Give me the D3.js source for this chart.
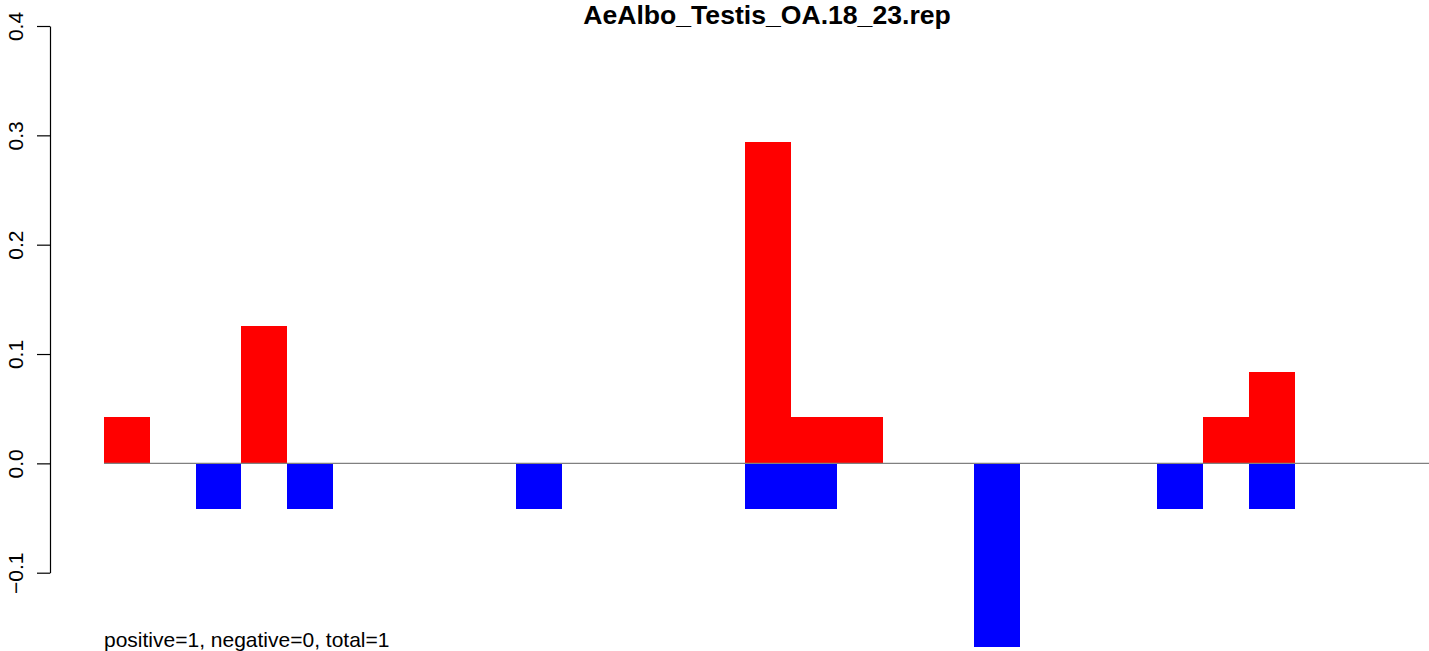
<!DOCTYPE html>
<html>
<head>
<meta charset="utf-8">
<script src="https://cdn.jsdelivr.net/npm/d3@7"></script>
<style>
  html, body { margin: 0; padding: 0; background: #fff; }
  svg { display: block; font-family: "Liberation Sans", Arial, Helvetica, sans-serif; }
</style>
</head>
<body>
<svg id="chart" width="1429" height="651"></svg>
<script>
// ---- data ----
const chartTitle = "AeAlbo_Testis_OA.18_23.rep";
const footnote = "positive=1, negative=0, total=1";
const slotCount = 29;
const redSlots  = [0, 3, 14, 15, 16, 24, 25];
const redValues = [0.042, 0.126, 0.294, 0.042, 0.042, 0.042, 0.084];
const blueSlots  = [2, 4, 9, 14, 15, 19, 23, 25];
const blueValues = [-0.042, -0.042, -0.042, -0.042, -0.042, -0.168, -0.042, -0.042];
const yTicks = [-0.1, 0.0, 0.1, 0.2, 0.3, 0.4];
const yTickLabels = ["\u22120.1", "0.0", "0.1", "0.2", "0.3", "0.4"];

// ---- layout ----
const W = 1429, H = 651;
const svg = d3.select("#chart");

const x = d3.scaleLinear().domain([0, slotCount]).range([104, 104 + slotCount * 45.8]);
const y = d3.scaleLinear().domain([-0.1, 0.4]).range([572.7, 26]);

const red = redSlots.map((s, i) => ({ s, v: redValues[i] }));
const blue = blueSlots.map((s, i) => ({ s, v: blueValues[i] }));

const barsG = svg.append("g").attr("shape-rendering", "crispEdges");
barsG.selectAll("rect.red").data(red).join("rect")
  .attr("class", "red")
  .attr("x", d => x(d.s))
  .attr("width", d => x(d.s + 1) - x(d.s))
  .attr("y", d => y(Math.max(0, d.v)))
  .attr("height", d => Math.abs(y(d.v) - y(0)))
  .attr("fill", "#ff0000");

barsG.selectAll("rect.blue").data(blue).join("rect")
  .attr("class", "blue")
  .attr("x", d => x(d.s))
  .attr("width", d => x(d.s + 1) - x(d.s))
  .attr("y", d => y(Math.max(0, d.v)))
  .attr("height", d => Math.abs(y(d.v) - y(0)))
  .attr("fill", "#0000ff");

// zero line
svg.append("line")
  .attr("x1", x(0)).attr("x2", W)
  .attr("y1", y(0)).attr("y2", y(0))
  .attr("stroke", "#808080").attr("stroke-width", 1.2);

// y axis
const yAxis = d3.axisLeft(y)
  .tickValues(yTicks)
  .tickFormat((d, i) => yTickLabels[i])
  .tickSize(13)
  .tickSizeOuter(0);

const gy = svg.append("g").attr("transform", "translate(50,0)").call(yAxis);
gy.select(".domain").attr("stroke", "#000").attr("stroke-width", 1.2);
gy.selectAll(".tick line").attr("stroke", "#000").attr("stroke-width", 1.2);
gy.selectAll(".tick text")
  .attr("x", null).attr("dy", null)
  .attr("transform", "translate(-27,0) rotate(-90)")
  .attr("text-anchor", "middle")
  .attr("fill", "#000")
  .style("font-size", "21px")
  .style("font-family", "'Liberation Sans', Arial, sans-serif");

// title
svg.append("text")
  .attr("x", 767).attr("y", 24)
  .attr("text-anchor", "middle")
  .style("font-size", "26.6px")
  .style("font-weight", "bold")
  .text(chartTitle);

// footnote
svg.append("text")
  .attr("x", 104).attr("y", 647)
  .style("font-size", "21px")
  .text(footnote);
</script>
</body>
</html>
